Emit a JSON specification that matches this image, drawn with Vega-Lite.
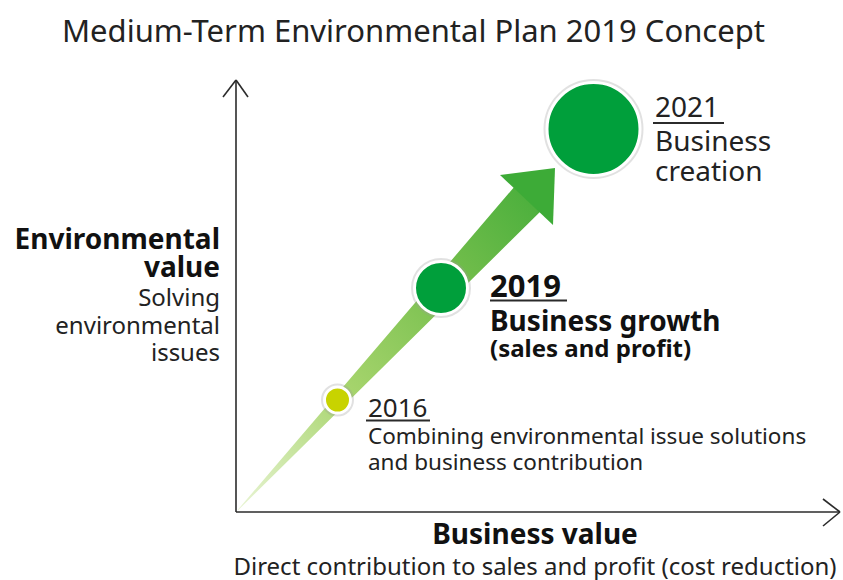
{
  "$schema": "https://vega.github.io/schema/vega-lite/v6.json",
  "width": 843,
  "height": 580,
  "padding": 0,
  "autosize": {"type": "fit", "contains": "padding"},
  "background": "white",
  "config": {"view": {"stroke": null}, "text": {"font": "Noto Sans", "baseline": "alphabetic"}},
  "datasets": {
    "axes": [
      {"x": 0, "y": 0, "x2": 0, "y2": 432},
      {"x": -13, "y": 415, "x2": 0, "y2": 432},
      {"x": 12, "y": 415, "x2": 0, "y2": 432},
      {"x": 0, "y": 0, "x2": 604, "y2": 0},
      {"x": 587, "y": 13, "x2": 604, "y2": 0},
      {"x": 587, "y": -14, "x2": 604, "y2": 0}
    ],
    "underlines": [
      {"x": 417, "y": 389, "x2": 488, "y2": 389},
      {"x": 254, "y": 211.5, "x2": 331, "y2": 211.5},
      {"x": 130, "y": 91.5, "x2": 194, "y2": 91.5}
    ],
    "shaft": [
      {"x": 2, "y": 2, "progress": 0},
      {"x": 292, "y": 313.5, "progress": 1}
    ],
    "head": [{"x": 294, "y": 317}],
    "milestones": [
      {"x": 101.5, "y": 112, "year": "2016"},
      {"x": 205, "y": 224, "year": "2019"},
      {"x": 357.5, "y": 383, "year": "2021"}
    ],
    "labels": [
      {"x": -174, "y": 470, "text": "Medium-Term Environmental Plan 2019 Concept", "group": "title"},
      {"x": -16, "y": 263, "text": "Environmental", "group": "leftBold"},
      {"x": -16, "y": 235, "text": "value", "group": "leftBold"},
      {"x": -16, "y": 206, "text": "Solving", "group": "leftNormal"},
      {"x": -16, "y": 178, "text": "environmental", "group": "leftNormal"},
      {"x": -16, "y": 151, "text": "issues", "group": "leftNormal"},
      {"x": 299, "y": -32, "text": "Business value", "group": "bottomBold"},
      {"x": 299, "y": -63, "text": "Direct contribution to sales and profit (cost reduction)", "group": "bottomNormal"},
      {"x": 419, "y": 395, "text": "2021", "group": "y2021"},
      {"x": 419, "y": 361, "text": "Business", "group": "y2021"},
      {"x": 419, "y": 331, "text": "creation", "group": "y2021"},
      {"x": 254, "y": 215, "text": "2019", "group": "y2019year"},
      {"x": 254, "y": 181, "text": "Business growth", "group": "y2019main"},
      {"x": 254, "y": 155, "text": "(sales and profit)", "group": "y2019sub"},
      {"x": 132, "y": 95, "text": "2016", "group": "y2016year"},
      {"x": 132, "y": 68, "text": "Combining environmental issue solutions", "group": "y2016desc"},
      {"x": 132, "y": 42, "text": "and business contribution", "group": "y2016desc"}
    ]
  },
  "encoding": {
    "x": {"field": "x", "type": "quantitative", "scale": {"domain": [-236, 607], "nice": false, "zero": false}, "axis": null},
    "y": {"field": "y", "type": "quantitative", "scale": {"domain": [-68, 512], "nice": false, "zero": false}, "axis": null}
  },
  "resolve": {"scale": {"size": "independent"}},
  "layer": [
    {
      "data": {"name": "axes"},
      "mark": {"type": "rule", "color": "#2b2b2b", "strokeWidth": 1.6},
      "encoding": {"x2": {"field": "x2"}, "y2": {"field": "y2"}}
    },
    {
      "data": {"name": "shaft"},
      "mark": {
        "type": "trail",
        "color": {
          "gradient": "linear", "x1": 0, "y1": 1, "x2": 1, "y2": 0,
          "stops": [
            {"offset": 0, "color": "#eaf5d6"},
            {"offset": 0.35, "color": "#a8d56e"},
            {"offset": 0.7, "color": "#74be4c"},
            {"offset": 1, "color": "#45ad3a"}
          ]
        }
      },
      "encoding": {
        "size": {"field": "progress", "type": "quantitative", "scale": {"domain": [0, 1], "range": [0.5, 36]}, "legend": null},
        "order": {"field": "progress", "type": "quantitative"}
      }
    },
    {
      "data": {"name": "head"},
      "mark": {"type": "point", "shape": "M0.5,-0.54L-0.6,-0.4L0.46,0.6Z", "size": 10000, "filled": true, "color": "#3dab37", "opacity": 1}
    },
    {
      "data": {"name": "milestones"},
      "mark": {"type": "point", "shape": "circle", "filled": false, "stroke": "#9a9a9a", "strokeWidth": 7, "strokeOpacity": 0.3, "opacity": 1},
      "encoding": {
        "size": {"field": "year", "type": "nominal", "scale": {"type": "ordinal", "domain": ["2016", "2019", "2021"], "range": [676, 2809, 8649]}, "legend": null}
      }
    },
    {
      "data": {"name": "milestones"},
      "mark": {"type": "point", "shape": "circle", "filled": true, "stroke": "white", "strokeWidth": 3, "opacity": 1},
      "encoding": {
        "size": {"field": "year", "type": "nominal", "scale": {"type": "ordinal", "domain": ["2016", "2019", "2021"], "range": [676, 2809, 8649]}, "legend": null},
        "color": {"field": "year", "type": "nominal", "scale": {"domain": ["2016", "2019", "2021"], "range": ["#c8d300", "#009f3b", "#009f3b"]}, "legend": null}
      }
    },
    {
      "data": {"name": "underlines"},
      "mark": {"type": "rule", "color": "#2b2b2b", "strokeWidth": 2.2},
      "encoding": {"x2": {"field": "x2"}, "y2": {"field": "y2"}}
    },
    {
      "data": {"name": "labels"},
      "transform": [{"filter": "datum.group === 'title'"}],
      "mark": {"type": "text", "align": "left", "fontSize": 31, "color": "#222222"},
      "encoding": {"text": {"field": "text"}}
    },
    {
      "data": {"name": "labels"},
      "transform": [{"filter": "datum.group === 'leftBold'"}],
      "mark": {"type": "text", "align": "right", "fontSize": 28, "fontWeight": "bold", "color": "#111111"},
      "encoding": {"text": {"field": "text"}}
    },
    {
      "data": {"name": "labels"},
      "transform": [{"filter": "datum.group === 'leftNormal'"}],
      "mark": {"type": "text", "align": "right", "fontSize": 24, "color": "#222222"},
      "encoding": {"text": {"field": "text"}}
    },
    {
      "data": {"name": "labels"},
      "transform": [{"filter": "datum.group === 'bottomBold'"}],
      "mark": {"type": "text", "align": "center", "fontSize": 28, "fontWeight": "bold", "color": "#111111"},
      "encoding": {"text": {"field": "text"}}
    },
    {
      "data": {"name": "labels"},
      "transform": [{"filter": "datum.group === 'bottomNormal'"}],
      "mark": {"type": "text", "align": "center", "fontSize": 24, "color": "#222222"},
      "encoding": {"text": {"field": "text"}}
    },
    {
      "data": {"name": "labels"},
      "transform": [{"filter": "datum.group === 'y2021'"}],
      "mark": {"type": "text", "align": "left", "fontSize": 28, "color": "#222222"},
      "encoding": {"text": {"field": "text"}}
    },
    {
      "data": {"name": "labels"},
      "transform": [{"filter": "datum.group === 'y2019year'"}],
      "mark": {"type": "text", "align": "left", "fontSize": 31, "fontWeight": "bold", "color": "#111111"},
      "encoding": {"text": {"field": "text"}}
    },
    {
      "data": {"name": "labels"},
      "transform": [{"filter": "datum.group === 'y2019main'"}],
      "mark": {"type": "text", "align": "left", "fontSize": 28, "fontWeight": "bold", "color": "#111111"},
      "encoding": {"text": {"field": "text"}}
    },
    {
      "data": {"name": "labels"},
      "transform": [{"filter": "datum.group === 'y2019sub'"}],
      "mark": {"type": "text", "align": "left", "fontSize": 24, "fontWeight": "bold", "color": "#111111"},
      "encoding": {"text": {"field": "text"}}
    },
    {
      "data": {"name": "labels"},
      "transform": [{"filter": "datum.group === 'y2016year'"}],
      "mark": {"type": "text", "align": "left", "fontSize": 26, "color": "#222222"},
      "encoding": {"text": {"field": "text"}}
    },
    {
      "data": {"name": "labels"},
      "transform": [{"filter": "datum.group === 'y2016desc'"}],
      "mark": {"type": "text", "align": "left", "fontSize": 22.5, "color": "#222222"},
      "encoding": {"text": {"field": "text"}}
    }
  ]
}
